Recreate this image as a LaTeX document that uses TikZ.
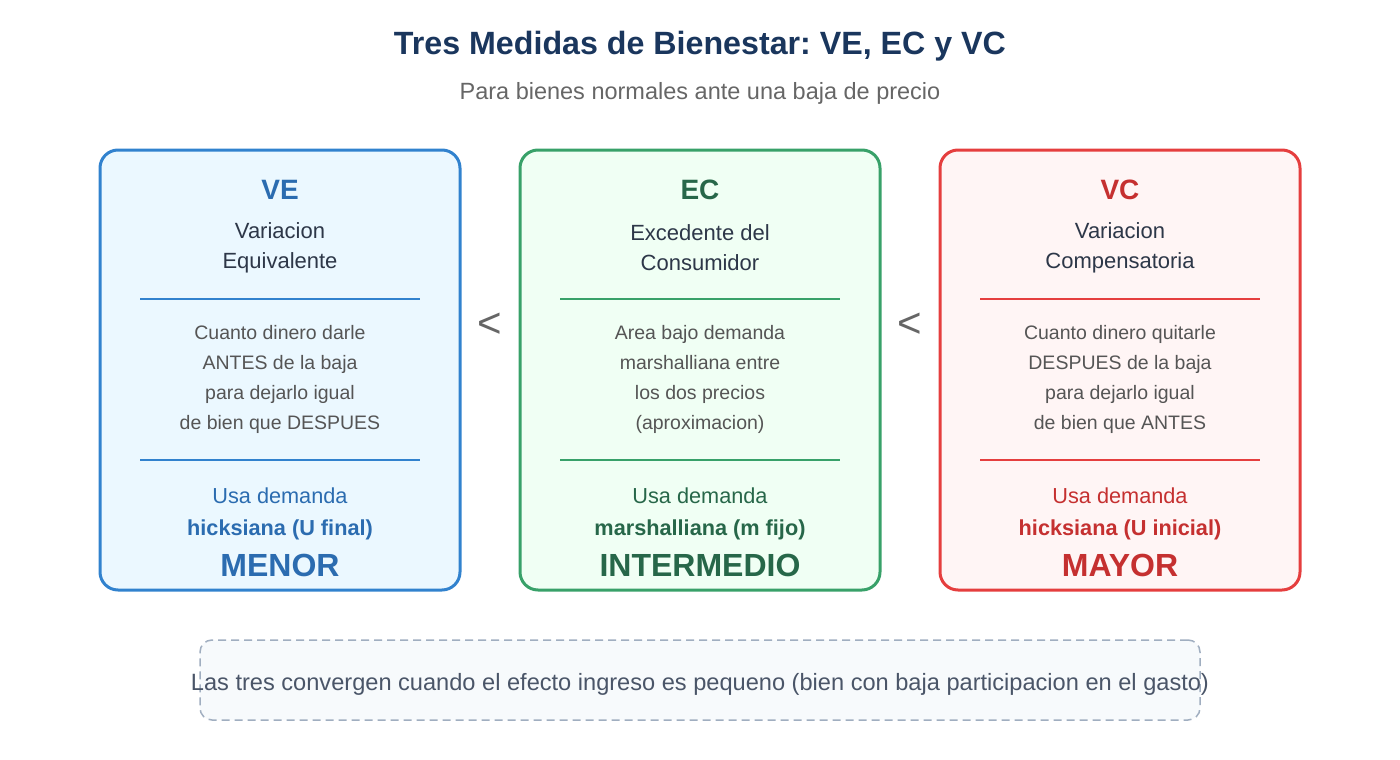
\documentclass[tikz,border=0pt]{standalone}
\usepackage{fontspec}
\setmainfont{Liberation Sans}
\usepackage{xcolor}
\usetikzlibrary{positioning}
\frenchspacing

\definecolor{titlecol}{HTML}{1A365D}
\definecolor{subcol}{HTML}{666666}
\definecolor{desccol}{HTML}{555555}
\definecolor{darkcol}{HTML}{2D3748}
\definecolor{vedraw}{HTML}{3182CE}
\definecolor{vefill}{HTML}{EBF8FF}
\definecolor{vetext}{HTML}{2B6CB0}
\definecolor{ecdraw}{HTML}{38A169}
\definecolor{ecfill}{HTML}{F0FFF4}
\definecolor{ectext}{HTML}{276749}
\definecolor{vcdraw}{HTML}{E53E3E}
\definecolor{vcfill}{HTML}{FFF5F5}
\definecolor{vctext}{HTML}{C53030}
\definecolor{notedraw}{HTML}{A0AEC0}
\definecolor{notefill}{HTML}{F7FAFC}
\definecolor{notetext}{HTML}{4A5568}

\tikzset{
  card/.style={draw=#1, line width=3pt, rounded corners=18pt, minimum width=360pt, minimum height=440pt, inner sep=0pt},
  cardhead/.style={font=\fontsize{28}{30}\selectfont\bfseries, text=#1},
  cardname/.style={font=\fontsize{22}{30}\selectfont, text=darkcol, align=center},
  carddesc/.style={font=\fontsize{19.5}{30}\selectfont, text=desccol, align=center},
  carduse/.style={font=\fontsize{21.7}{32}\selectfont, text=#1, align=center},
  cardrank/.style={font=\fontsize{32}{34}\selectfont\bfseries, text=#1},
  lessthan/.style={font=\fontsize{42}{42}\selectfont, text=subcol},
}

\begin{document}
\begin{tikzpicture}[x=1pt, y=-1pt]

\useasboundingbox (0,0) rectangle (1400,760);

% Title
\node[font=\fontsize{32.2}{34}\selectfont\bfseries, text=titlecol] (title) at (700,46) {Tres Medidas de Bienestar: VE, EC y VC};
\node[font=\fontsize{23.5}{24}\selectfont, text=subcol] (subtitle) at (700,93) {Para bienes normales ante una baja de precio};

% Cards
\node[card=vedraw, fill=vefill] (ve) at (280,370) {};
\node[card=ecdraw, fill=ecfill] (ec) at (700,370) {};
\node[card=vcdraw, fill=vcfill] (vc) at (1120,370) {};

% VE
\node[cardhead=vetext] (vehead) at (280,190) {VE};
\node[cardname] (vename) at (280,248) {Variacion\\Equivalente};
\draw[vedraw, line width=1.5pt] (140,299) -- (420,299);
\node[carddesc] (vedesc) at (280,379) {Cuanto dinero darle\\ANTES de la baja\\para dejarlo igual\\de bien que DESPUES};
\draw[vedraw, line width=1.5pt] (140,460) -- (420,460);
\node[carduse=vetext] (veuse) at (280,514) {Usa demanda\\\textbf{hicksiana (U final)}};
\node[cardrank=vetext] (verank) at (280,565) {MENOR};

% EC
\node[cardhead=ectext] (echead) at (700,190) {EC};
\node[cardname] (ecname) at (700,248) {Excedente del\\Consumidor};
\draw[ecdraw, line width=1.5pt] (560,299) -- (840,299);
\node[carddesc] (ecdesc) at (700,379) {Area bajo demanda\\marshalliana entre\\los dos precios\\(aproximacion)};
\draw[ecdraw, line width=1.5pt] (560,460) -- (840,460);
\node[carduse=ectext] (ecuse) at (700,514) {Usa demanda\\\textbf{marshalliana (m fijo)}};
\node[cardrank=ectext] (ecrank) at (700,565) {INTERMEDIO};

% VC
\node[cardhead=vctext] (vchead) at (1120,190) {VC};
\node[cardname] (vcname) at (1120,248) {Variacion\\Compensatoria};
\draw[vcdraw, line width=1.5pt] (980,299) -- (1260,299);
\node[carddesc] (vcdesc) at (1120,379) {Cuanto dinero quitarle\\DESPUES de la baja\\para dejarlo igual\\de bien que ANTES};
\draw[vcdraw, line width=1.5pt] (980,460) -- (1260,460);
\node[carduse=vctext] (vcuse) at (1120,514) {Usa demanda\\\textbf{hicksiana (U inicial)}};
\node[cardrank=vctext] (vcrank) at (1120,565) {MAYOR};

% Comparison signs
\node[lessthan] (lt1) at (490,325) {<};
\node[lessthan] (lt2) at (910,325) {<};

% Note
\node[draw=notedraw, fill=notefill, line width=1.5pt, dash pattern=on 8pt off 5pt, rounded corners=12pt, minimum width=1000pt, minimum height=80pt] (note) at (700,680) {};
\node[font=\fontsize{23.6}{24}\selectfont, text=notetext] (notetxt) at (700,684) {Las tres convergen cuando el efecto ingreso es pequeno (bien con baja participacion en el gasto)};

\end{tikzpicture}
\end{document}
